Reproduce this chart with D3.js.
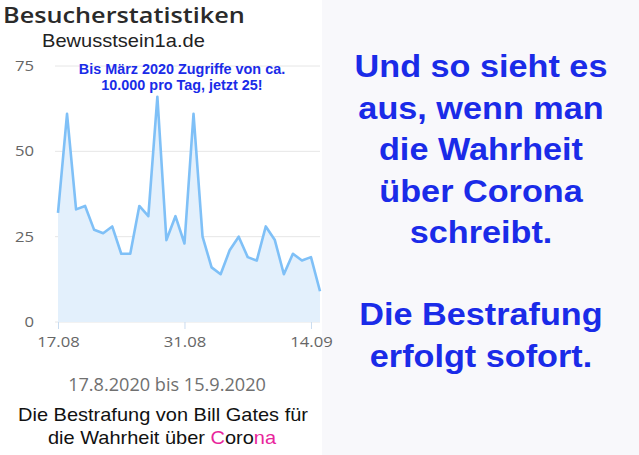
<!DOCTYPE html>
<html>
<head>
<meta charset="utf-8">
<script src="https://cdn.jsdelivr.net/npm/d3@7"></script>
<style>
  body { margin: 0; background: #fff; }
  svg { display: block; }
</style>
</head>
<body>
<div id="chart"></div>
<script>
// Visitor statistics, one value per day
const startDate = new Date(2020, 7, 17)
const visits = [32, 61, 33, 34, 27, 26, 28, 20, 20, 34, 31, 66, 24, 31, 23, 61, 25, 16, 14, 21, 25, 19, 18, 28, 24, 14, 20, 18, 19, 9]
const yTicks = [0, 25, 50, 75]
const xTickDates = [new Date(2020, 7, 17), new Date(2020, 7, 31), new Date(2020, 8, 14)]
const noteLines = ["Bis März 2020 Zugriffe von ca.", "10.000 pro Tag, jetzt 25!"]
const sideLines = ["Und so sieht es", "aus, wenn man", "die Wahrheit", "über Corona", "schreibt."]
const sideLines2 = ["Die Bestrafung", "erfolgt sofort."]

const data = visits.map((v, i) => ({ date: d3.timeDay.offset(startDate, i), value: v }))

const W = 639, H = 455
const margin = { top: 66, right: 319, bottom: 133, left: 58 }
const width = W - margin.left - margin.right
const height = H - margin.top - margin.bottom

const svg = d3.select("#chart").append("svg").attr("width", W).attr("height", H)

// the source screenshot is a bit wider than normal fonts, so stretch text horizontally
function stretch(sel, x, y, sx) {
  sel.attr("x", 0).attr("y", 0).attr("transform", `translate(${x},${y}) scale(${sx},1)`)
}
function fitScale(sel, targetW) {
  return targetW / sel.node().getComputedTextLength()
}

// right panel background
svg.append("rect").attr("x", 322).attr("y", 0).attr("width", W - 322).attr("height", H).style("fill", "#f8f8fb")

const x = d3.scaleTime().domain(d3.extent(data, (d) => d.date)).range([0, width])
const y = d3.scaleLinear().domain([0, 75]).range([height, 0])

const g = svg.append("g").attr("transform", `translate(${margin.left},${margin.top})`)

// grid
g.selectAll(".grid")
  .data(yTicks)
  .enter()
  .append("line")
  .attr("x1", -3)
  .attr("x2", 262)
  .attr("y1", (d) => y(d))
  .attr("y2", (d) => y(d))
  .style("stroke", "#e6e6e6")
  .style("stroke-width", 1)

g.selectAll(".ylab")
  .data(yTicks)
  .enter()
  .append("text")
  .style("text-anchor", "end")
  .attr("dy", "0.35em")
  .style("font-family", "'Open Sans', sans-serif")
  .style("font-size", "14.5px")
  .style("fill", "#666")
  .text((d) => d)
  .each(function (d) {
    stretch(d3.select(this), -24, y(d), 1.15)
  })

// area + line
const area = d3.area().x((d) => x(d.date)).y0(height).y1((d) => y(d.value))
const line = d3.line().x((d) => x(d.date)).y((d) => y(d.value))

g.append("path").datum(data).attr("d", area).style("fill", "#e3f0fc")
g.append("path")
  .datum(data)
  .attr("d", line)
  .style("fill", "none")
  .style("stroke", "#7fc0f7")
  .style("stroke-width", 2.6)
  .style("stroke-linejoin", "round")

// x axis
const xAxis = d3.axisBottom(x).tickValues(xTickDates).tickFormat(d3.timeFormat("%d.%m")).tickSize(7).tickSizeOuter(0)
const gx = g.append("g").attr("transform", `translate(0,${height})`).call(xAxis)
gx.select(".domain").remove()
gx.selectAll("line").style("stroke", "#c9dcf0")
gx.selectAll("text")
  .attr("dy", "1.05em")
  .style("font-family", "'Open Sans', sans-serif")
  .style("font-size", "14.5px")
  .style("fill", "#666")
  .attr("transform", "scale(1.15,1)")

// titles
const title = svg.append("text")
  .style("font-family", "'Open Sans', sans-serif")
  .style("font-weight", 600)
  .style("font-size", "21px")
  .style("fill", "#2a2a2a")
  .text("Besucherstatistiken")
stretch(title, 3, 23, fitScale(title, 242))

const site = svg.append("text")
  .style("font-family", "'Liberation Sans', Arial, sans-serif")
  .style("font-size", "18px")
  .style("fill", "#222")
  .text("Bewusstsein1a.de")
stretch(site, 42, 47, fitScale(site, 163))

svg.selectAll(".note")
  .data(noteLines)
  .enter()
  .append("text")
  .attr("x", 182)
  .attr("y", (d, i) => 73.5 + i * 16)
  .style("text-anchor", "middle")
  .style("font-family", "'Liberation Sans', Arial, sans-serif")
  .style("font-weight", "bold")
  .style("font-size", "14.4px")
  .style("fill", "#1a2be8")
  .text((d) => d)

const range = svg.append("text")
  .style("text-anchor", "middle")
  .style("font-family", "'Open Sans', sans-serif")
  .style("font-size", "18px")
  .style("fill", "#707070")
  .text("17.8.2020 bis 15.9.2020")
stretch(range, 167, 391, fitScale(range, 198))

const foot = svg.append("g").style("font-family", "'Liberation Sans', Arial, sans-serif").style("font-size", "18px")
const foot1 = foot.append("text").style("text-anchor", "middle").style("fill", "#111").text("Die Bestrafung von Bill Gates für")
const footScale = fitScale(foot1, 290)
stretch(foot1, 163, 421, footScale)
const foot2 = foot.append("text").style("text-anchor", "middle").style("fill", "#111")
foot2.append("tspan").text("die Wahrheit über ")
foot2.append("tspan").style("fill", "#e8249b").text("C")
foot2.append("tspan").text("oro")
foot2.append("tspan").style("fill", "#e8249b").text("na")
stretch(foot2, 162, 444, footScale)

// right side text
const side = svg.append("g")
  .style("font-family", "'Liberation Sans', Arial, sans-serif")
  .style("font-weight", "bold")
  .style("font-size", "31px")
  .style("fill", "#1a2be8")
  .style("text-anchor", "middle")

const s1 = side.selectAll(".s1").data(sideLines).enter().append("text").text((d) => d)
const sideScale = fitScale(d3.select(s1.nodes()[0]), 253)
s1.each(function (d, i) {
  stretch(d3.select(this), 481, 77 + i * 41.6, sideScale)
})

side.selectAll(".s2")
  .data(sideLines2)
  .enter()
  .append("text")
  .text((d) => d)
  .each(function (d, i) {
    stretch(d3.select(this), 481, 325 + i * 42, sideScale)
  })
</script>
</body>
</html>
